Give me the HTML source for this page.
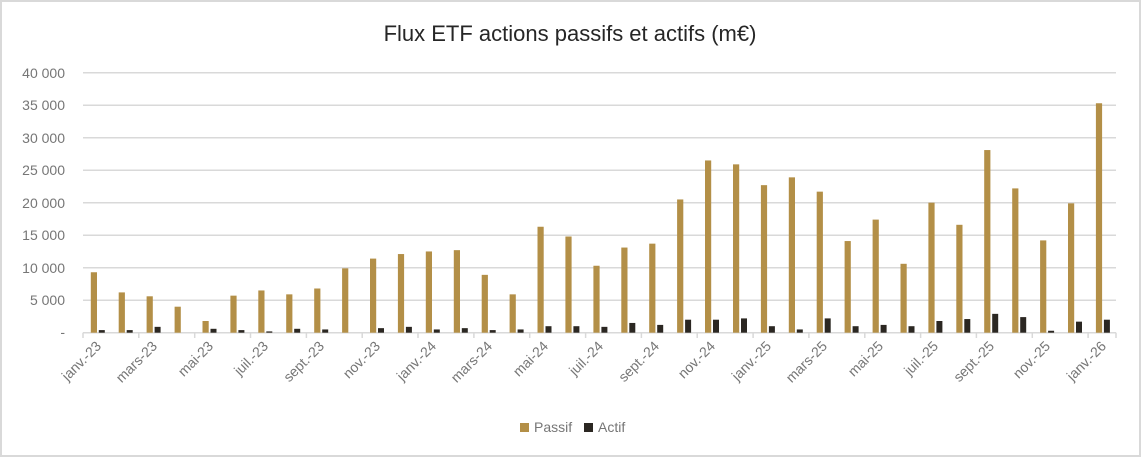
<!DOCTYPE html>
<html><head><meta charset="utf-8"><style>
html,body{margin:0;padding:0;background:#fff}
svg{display:block;font-family:"Liberation Sans",sans-serif}
</style></head><body>
<svg width="1141" height="457" viewBox="0 0 1141 457" xmlns="http://www.w3.org/2000/svg">
<rect x="1" y="1" width="1139" height="455" fill="#fff" stroke="#d9d9d9" stroke-width="2"/>
<text x="570" y="41" text-anchor="middle" font-size="22" fill="#262626">Flux ETF actions passifs et actifs (m€)</text>
<g stroke="#d9d9d9" stroke-width="1.5">
<line x1="83" x2="1116" y1="72.7" y2="72.7"/><line x1="83" x2="1116" y1="105.2" y2="105.2"/>
<line x1="83" x2="1116" y1="137.7" y2="137.7"/><line x1="83" x2="1116" y1="170.2" y2="170.2"/>
<line x1="83" x2="1116" y1="202.7" y2="202.7"/><line x1="83" x2="1116" y1="235.2" y2="235.2"/>
<line x1="83" x2="1116" y1="267.7" y2="267.7"/><line x1="83" x2="1116" y1="300.2" y2="300.2"/>
<line x1="83" x2="1116" y1="332.7" y2="332.7"/>
<line x1="83" x2="83" y1="332.7" y2="338"/><line x1="138.8" x2="138.8" y1="332.7" y2="338"/><line x1="194.7" x2="194.7" y1="332.7" y2="338"/><line x1="250.5" x2="250.5" y1="332.7" y2="338"/><line x1="306.4" x2="306.4" y1="332.7" y2="338"/><line x1="362.2" x2="362.2" y1="332.7" y2="338"/><line x1="418" x2="418" y1="332.7" y2="338"/><line x1="473.9" x2="473.9" y1="332.7" y2="338"/><line x1="529.7" x2="529.7" y1="332.7" y2="338"/><line x1="585.6" x2="585.6" y1="332.7" y2="338"/><line x1="641.4" x2="641.4" y1="332.7" y2="338"/><line x1="697.2" x2="697.2" y1="332.7" y2="338"/><line x1="753.1" x2="753.1" y1="332.7" y2="338"/><line x1="808.9" x2="808.9" y1="332.7" y2="338"/><line x1="864.8" x2="864.8" y1="332.7" y2="338"/><line x1="920.6" x2="920.6" y1="332.7" y2="338"/><line x1="976.4" x2="976.4" y1="332.7" y2="338"/><line x1="1032.3" x2="1032.3" y1="332.7" y2="338"/><line x1="1088.1" x2="1088.1" y1="332.7" y2="338"/><line x1="1116" x2="1116" y1="332.7" y2="338"/>
</g>
<g font-size="14" fill="#767676" text-anchor="end">
<text x="65" y="78">40 000</text><text x="65" y="110">35 000</text><text x="65" y="143">30 000</text>
<text x="65" y="175">25 000</text><text x="65" y="208">20 000</text><text x="65" y="240">15 000</text>
<text x="65" y="273">10 000</text><text x="65" y="305">5 000</text><text x="65" y="337">-</text>
</g>
<g transform="translate(0,332.7) scale(1,-6.5)" fill="#b38f47">
<rect x="90.8" y="0" width="6.2" height="9.3"/><rect x="118.7" y="0" width="6.2" height="6.2"/><rect x="146.6" y="0" width="6.2" height="5.6"/><rect x="174.6" y="0" width="6.2" height="4.0"/><rect x="202.5" y="0" width="6.2" height="1.8"/><rect x="230.4" y="0" width="6.2" height="5.7"/><rect x="258.3" y="0" width="6.2" height="6.5"/><rect x="286.2" y="0" width="6.2" height="5.9"/><rect x="314.2" y="0" width="6.2" height="6.8"/><rect x="342.1" y="0" width="6.2" height="9.9"/><rect x="370" y="0" width="6.2" height="11.4"/><rect x="397.9" y="0" width="6.2" height="12.1"/><rect x="425.8" y="0" width="6.2" height="12.5"/><rect x="453.8" y="0" width="6.2" height="12.7"/><rect x="481.7" y="0" width="6.2" height="8.9"/><rect x="509.6" y="0" width="6.2" height="5.9"/><rect x="537.5" y="0" width="6.2" height="16.3"/><rect x="565.4" y="0" width="6.2" height="14.8"/><rect x="593.4" y="0" width="6.2" height="10.3"/><rect x="621.3" y="0" width="6.2" height="13.1"/><rect x="649.2" y="0" width="6.2" height="13.7"/><rect x="677.1" y="0" width="6.2" height="20.5"/><rect x="705" y="0" width="6.2" height="26.5"/><rect x="733" y="0" width="6.2" height="25.9"/><rect x="760.9" y="0" width="6.2" height="22.7"/><rect x="788.8" y="0" width="6.2" height="23.9"/><rect x="816.7" y="0" width="6.2" height="21.7"/><rect x="844.6" y="0" width="6.2" height="14.1"/><rect x="872.6" y="0" width="6.2" height="17.4"/><rect x="900.5" y="0" width="6.2" height="10.6"/><rect x="928.4" y="0" width="6.2" height="20.0"/><rect x="956.3" y="0" width="6.2" height="16.6"/><rect x="984.2" y="0" width="6.2" height="28.1"/><rect x="1012.2" y="0" width="6.2" height="22.2"/><rect x="1040.1" y="0" width="6.2" height="14.2"/><rect x="1068" y="0" width="6.2" height="19.9"/><rect x="1095.9" y="0" width="6.2" height="35.3"/>
</g>
<g transform="translate(0,332.7) scale(1,-6.5)" fill="#2b2722">
<rect x="98.8" y="0" width="6" height="0.4"/><rect x="126.7" y="0" width="6" height="0.4"/><rect x="154.6" y="0" width="6" height="0.9"/><rect x="210.5" y="0" width="6" height="0.6"/><rect x="238.4" y="0" width="6" height="0.4"/><rect x="266.3" y="0" width="6" height="0.2"/><rect x="294.2" y="0" width="6" height="0.6"/><rect x="322.2" y="0" width="6" height="0.5"/><rect x="378" y="0" width="6" height="0.7"/><rect x="405.9" y="0" width="6" height="0.9"/><rect x="433.8" y="0" width="6" height="0.5"/><rect x="461.8" y="0" width="6" height="0.7"/><rect x="489.7" y="0" width="6" height="0.4"/><rect x="517.6" y="0" width="6" height="0.5"/><rect x="545.5" y="0" width="6" height="1.0"/><rect x="573.4" y="0" width="6" height="1.0"/><rect x="601.4" y="0" width="6" height="0.9"/><rect x="629.3" y="0" width="6" height="1.5"/><rect x="657.2" y="0" width="6" height="1.2"/><rect x="685.1" y="0" width="6" height="2.0"/><rect x="713" y="0" width="6" height="2.0"/><rect x="741" y="0" width="6" height="2.2"/><rect x="768.9" y="0" width="6" height="1.0"/><rect x="796.8" y="0" width="6" height="0.5"/><rect x="824.7" y="0" width="6" height="2.2"/><rect x="852.6" y="0" width="6" height="1.0"/><rect x="880.6" y="0" width="6" height="1.2"/><rect x="908.5" y="0" width="6" height="1.0"/><rect x="936.4" y="0" width="6" height="1.8"/><rect x="964.3" y="0" width="6" height="2.1"/><rect x="992.2" y="0" width="6" height="2.9"/><rect x="1020.2" y="0" width="6" height="2.4"/><rect x="1048.1" y="0" width="6" height="0.3"/><rect x="1076" y="0" width="6" height="1.7"/><rect x="1103.9" y="0" width="6" height="2.0"/>
</g>
<g font-size="14" fill="#767676" text-anchor="end">
<text transform="translate(102,347) rotate(-45)">janv.-23</text>
<text transform="translate(158,347) rotate(-45)">mars-23</text>
<text transform="translate(214,347) rotate(-45)">mai-23</text>
<text transform="translate(269,347) rotate(-45)">juil.-23</text>
<text transform="translate(325,347) rotate(-45)">sept.-23</text>
<text transform="translate(381,347) rotate(-45)">nov.-23</text>
<text transform="translate(437,347) rotate(-45)">janv.-24</text>
<text transform="translate(493,347) rotate(-45)">mars-24</text>
<text transform="translate(549,347) rotate(-45)">mai-24</text>
<text transform="translate(604,347) rotate(-45)">juil.-24</text>
<text transform="translate(660,347) rotate(-45)">sept.-24</text>
<text transform="translate(716,347) rotate(-45)">nov.-24</text>
<text transform="translate(772,347) rotate(-45)">janv.-25</text>
<text transform="translate(828,347) rotate(-45)">mars-25</text>
<text transform="translate(884,347) rotate(-45)">mai-25</text>
<text transform="translate(939,347) rotate(-45)">juil.-25</text>
<text transform="translate(995,347) rotate(-45)">sept.-25</text>
<text transform="translate(1051,347) rotate(-45)">nov.-25</text>
<text transform="translate(1107,347) rotate(-45)">janv.-26</text>
</g>
<rect x="520" y="423" width="9" height="9" fill="#b38f47"/>
<text x="534" y="432" font-size="14" fill="#767676">Passif</text>
<rect x="584" y="423" width="9" height="9" fill="#2b2722"/>
<text x="598" y="432" font-size="14" fill="#767676">Actif</text>
</svg>
</body></html>
